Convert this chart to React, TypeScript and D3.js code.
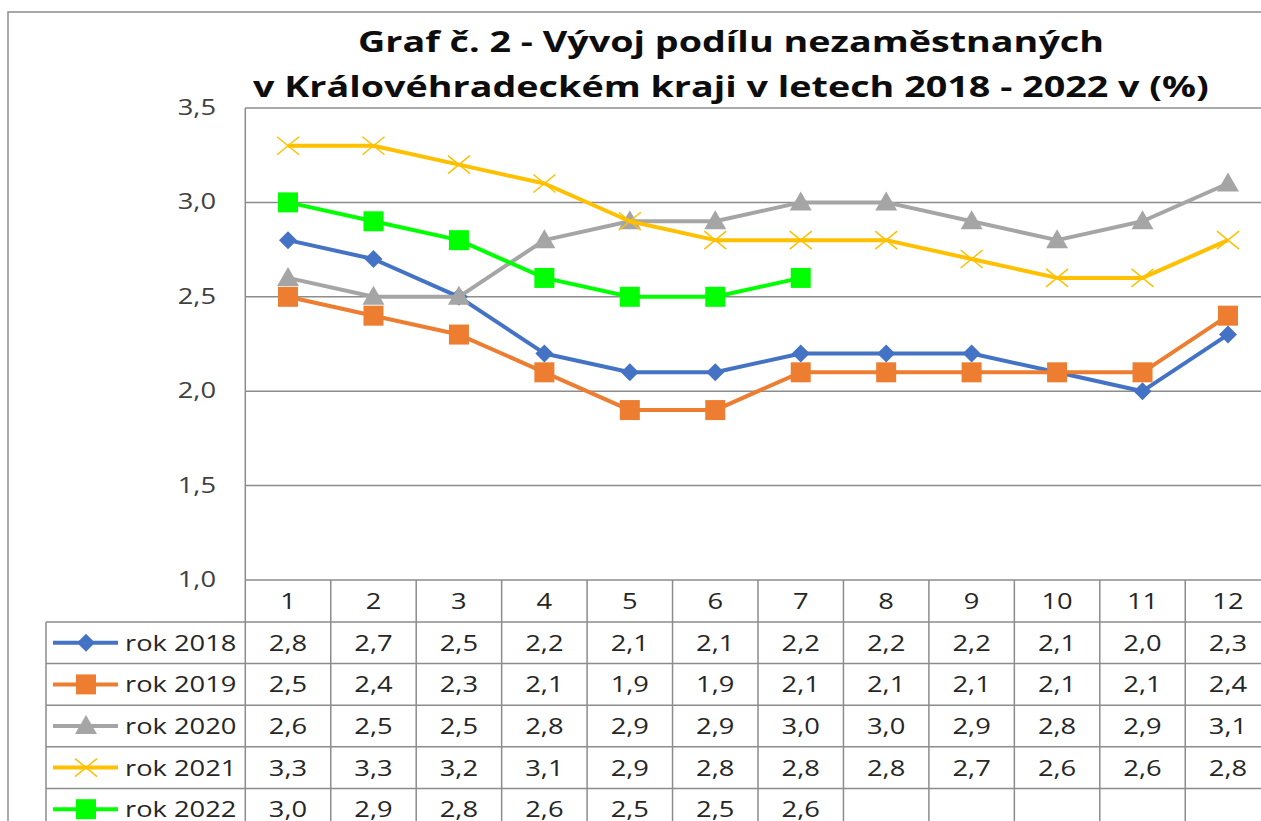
import React, { useRef, useEffect } from 'react';
import * as d3 from 'd3';

const months = ['1', '2', '3', '4', '5', '6', '7', '8', '9', '10', '11', '12'];
const yTicks = [1.0, 1.5, 2.0, 2.5, 3.0, 3.5];
const rok2018 = [2.8, 2.7, 2.5, 2.2, 2.1, 2.1, 2.2, 2.2, 2.2, 2.1, 2.0, 2.3];
const rok2019 = [2.5, 2.4, 2.3, 2.1, 1.9, 1.9, 2.1, 2.1, 2.1, 2.1, 2.1, 2.4];
const rok2020 = [2.6, 2.5, 2.5, 2.8, 2.9, 2.9, 3.0, 3.0, 2.9, 2.8, 2.9, 3.1];
const rok2021 = [3.3, 3.3, 3.2, 3.1, 2.9, 2.8, 2.8, 2.8, 2.7, 2.6, 2.6, 2.8];
const rok2022 = [3.0, 2.9, 2.8, 2.6, 2.5, 2.5, 2.6];
const titleLines = ['Graf č. 2 - Vývoj podílu nezaměstnaných', 'v Královéhradeckém kraji v letech 2018 - 2022 v (%)'];

const series = [
  { name: 'rok 2018', values: rok2018, color: '#4472C4', marker: 'diamond' },
  { name: 'rok 2019', values: rok2019, color: '#ED7D31', marker: 'square' },
  { name: 'rok 2020', values: rok2020, color: '#A5A5A5', marker: 'triangle' },
  { name: 'rok 2021', values: rok2021, color: '#FFC000', marker: 'x' },
  { name: 'rok 2022', values: rok2022, color: '#00FF00', marker: 'square' },
];

const fmt = (v: number) => d3.format('.1f')(v).replace('.', ',');
const FONT = '"Open Sans", "Liberation Sans", sans-serif';
// the picture is stretched sideways, so widen every text by this much
const STRETCH = 1.3;

export default function App() {
  const ref = useRef<SVGSVGElement>(null);
  const width = 1261;
  const height = 821;

  useEffect(() => {
    const svg = d3.select(ref.current);
    svg.selectAll('*').remove();

    const left = 245.3;
    const step = 85.45;
    const top = 108;
    const bottom = 580;
    const legendLeft = 46;
    const headerH = 42;
    const rowH = 41.6;

    const x = d3.scaleBand().domain(months).range([left, left + step * months.length]);
    const y = d3.scaleLinear().domain([1, 3.5]).range([bottom, top]);
    const cx = (i: number) => (x(months[i]) as number) + x.bandwidth() / 2;
    const right = left + step * months.length;

    // outer frame
    svg.append('rect')
      .attr('x', 8).attr('y', 12)
      .attr('width', 1300).attr('height', 900)
      .attr('fill', 'white').attr('stroke', '#8c8c8c').attr('stroke-width', 1.5);

    // title
    svg.append('g')
      .selectAll('text')
      .data(titleLines)
      .join('text')
      .attr('class', 'stretch')
      .attr('x', 731)
      .attr('y', (d, i) => 52 + i * 45)
      .attr('text-anchor', 'middle')
      .attr('font-family', FONT)
      .attr('font-weight', 'bold')
      .attr('font-size', 29)
      .attr('fill', '#0d0d0d')
      .text(d => d);

    // gridlines
    svg.append('g')
      .selectAll('line')
      .data(yTicks)
      .join('line')
      .attr('x1', left).attr('x2', right)
      .attr('y1', d => y(d)).attr('y2', d => y(d))
      .attr('stroke', '#8c8c8c').attr('stroke-width', 1.5);

    // y axis labels
    svg.append('g')
      .selectAll('text')
      .data(yTicks)
      .join('text')
      .attr('class', 'stretch')
      .attr('x', 216)
      .attr('y', d => y(d) + 7)
      .attr('text-anchor', 'end')
      .attr('font-family', FONT)
      .attr('font-size', 21)
      .attr('fill', '#404040')
      .text(d => fmt(d));

    // table grid
    const grid = svg.append('g').attr('stroke', '#8c8c8c').attr('stroke-width', 1.5);
    const tableBottom = height + 20;
    grid.append('line').attr('x1', left).attr('x2', left).attr('y1', top).attr('y2', tableBottom);
    grid.selectAll('.col')
      .data(months)
      .join('line')
      .attr('x1', d => (x(d) as number) + step).attr('x2', d => (x(d) as number) + step)
      .attr('y1', bottom).attr('y2', tableBottom);
    grid.append('line').attr('x1', legendLeft).attr('x2', legendLeft).attr('y1', bottom + headerH).attr('y2', tableBottom);
    grid.selectAll('.row')
      .data(d3.range(series.length + 1))
      .join('line')
      .attr('x1', legendLeft).attr('x2', right)
      .attr('y1', i => bottom + headerH + i * rowH).attr('y2', i => bottom + headerH + i * rowH);

    // header numbers
    svg.append('g')
      .selectAll('text')
      .data(months)
      .join('text')
      .attr('class', 'stretch')
      .attr('x', (d, i) => cx(i))
      .attr('y', bottom + headerH / 2 + 8)
      .attr('text-anchor', 'middle')
      .attr('font-family', FONT)
      .attr('font-size', 21)
      .attr('fill', '#262626')
      .text(d => d);

    const drawMarker = (g: any, m: string, color: string, px: number, py: number) => {
      if (m === 'diamond') {
        g.append('path').attr('d', `M${px},${py - 9}L${px + 9},${py}L${px},${py + 9}L${px - 9},${py}Z`).attr('fill', color);
      } else if (m === 'square') {
        g.append('rect').attr('x', px - 10).attr('y', py - 10).attr('width', 20).attr('height', 20).attr('fill', color);
      } else if (m === 'triangle') {
        g.append('path').attr('d', `M${px},${py - 11}L${px + 11},${py + 8}L${px - 11},${py + 8}Z`).attr('fill', color);
      } else {
        g.append('path').attr('d', `M${px - 11},${py - 9}L${px + 11},${py + 9}M${px - 11},${py + 9}L${px + 11},${py - 9}`)
          .attr('stroke', color).attr('stroke-width', 1.5).attr('fill', 'none');
      }
    };

    const line = d3.line<number>().x((d, i) => cx(i)).y(d => y(d));

    series.forEach((s, si) => {
      const g = svg.append('g');
      g.append('path')
        .attr('d', line(s.values))
        .attr('fill', 'none')
        .attr('stroke', s.color)
        .attr('stroke-width', 4)
        .attr('stroke-linejoin', 'round');
      s.values.forEach((v, i) => drawMarker(g, s.marker, s.color, cx(i), y(v)));

      // table row
      const rowY = bottom + headerH + si * rowH + rowH / 2;
      const lg = svg.append('g');
      lg.append('line').attr('x1', 53).attr('x2', 118).attr('y1', rowY).attr('y2', rowY)
        .attr('stroke', s.color).attr('stroke-width', 4);
      drawMarker(lg, s.marker, s.color, 86, rowY);
      lg.append('text')
        .attr('class', 'stretch')
        .attr('x', 125).attr('y', rowY + 8)
        .attr('font-family', FONT).attr('font-size', 21).attr('fill', '#262626')
        .text(s.name);
      lg.selectAll('.val')
        .data(s.values)
        .join('text')
        .attr('class', 'stretch')
        .attr('x', (d, i) => cx(i))
        .attr('y', rowY + 8)
        .attr('text-anchor', 'middle')
        .attr('font-family', FONT).attr('font-size', 21).attr('fill', '#262626')
        .text(d => fmt(d));
    });

    svg.selectAll<SVGTextElement, unknown>('text.stretch').each(function () {
      const w = this.getComputedTextLength();
      d3.select(this).attr('textLength', w * STRETCH).attr('lengthAdjust', 'spacingAndGlyphs');
    });
  }, []);

  return (
    <svg ref={ref} width={width} height={height}
      style={{ position: 'absolute', left: 0, top: 0, background: 'white' }} />
  );
}
